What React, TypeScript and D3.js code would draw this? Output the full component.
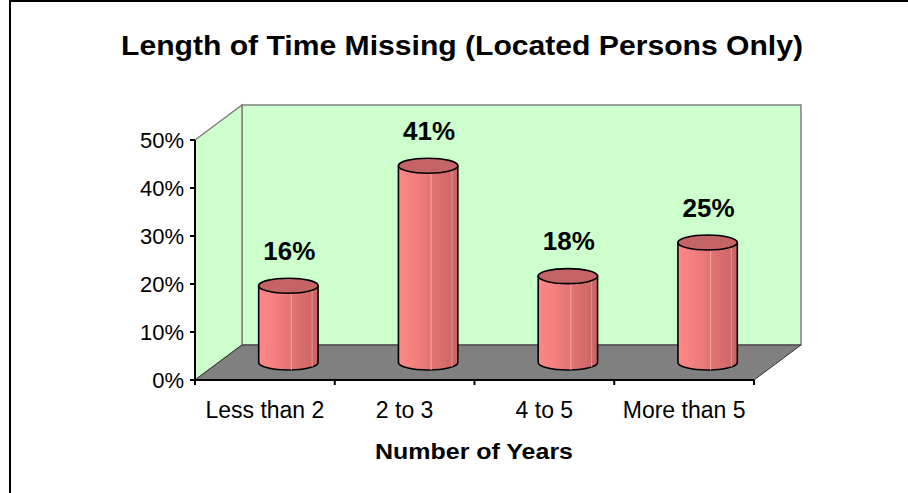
import React from "react";
import * as d3 from "d3";

const categories = ["Less than 2", "2 to 3", "4 to 5", "More than 5"];
const values = [0.16, 0.41, 0.18, 0.25];
const valueLabels = ["16%", "41%", "18%", "25%"];
const yTicks = [0, 0.1, 0.2, 0.3, 0.4, 0.5];
const title = "Length of Time Missing (Located Persons Only)";
const xTitle = "Number of Years";

const W = 908;
const H = 493;
const left = 195;
const right = 754;
const bottom = 380;
const top = 140;
const DX = 47;
const DY = -35;
const font = "Arial, 'Liberation Sans', Helvetica, sans-serif";

export default function App() {
  const x = d3.scaleBand<string>().domain(categories).range([left, right]);
  const y = d3.scaleLinear().domain([0, 0.5]).range([bottom, top]);
  const yFmt = d3.format(".0%");
  const bw = x.bandwidth() * 0.425;
  const rx = bw / 2;
  const ry = 7.5;
  const mx = DX / 2;
  const my = DY / 2;

  const back = [
    [left + DX, top + DY],
    [right + DX, top + DY],
    [right + DX, bottom + DY],
    [left + DX, bottom + DY],
  ];
  const side = [
    [left, top],
    [left + DX, top + DY],
    [left + DX, bottom + DY],
    [left, bottom],
  ];
  const floor = [
    [left, bottom],
    [left + DX, bottom + DY],
    [right + DX, bottom + DY],
    [right, bottom],
  ];
  const pts = (p: number[][]) => p.map((d) => d.join(",")).join(" ");

  const boundaries = [left, ...categories.map((c) => (x(c) as number) + x.bandwidth())];

  return (
    <svg
      width={W}
      height={H}
      style={{ position: "absolute", left: 0, top: 0, background: "#fff" }}
      xmlns="http://www.w3.org/2000/svg"
    >
      <defs>
        <linearGradient id="cyl" x1="0" x2="1" y1="0" y2="0">
          <stop offset="0" stopColor="#ff8686" />
          <stop offset="0.25" stopColor="#f58080" />
          <stop offset="0.5" stopColor="#e67676" />
          <stop offset="0.75" stopColor="#d86c6c" />
          <stop offset="1" stopColor="#c86464" />
        </linearGradient>
      </defs>
      <rect x={10} y={1} width={W + 20} height={H + 20} fill="#fff" stroke="#000" strokeWidth={2} />
      <text
        x={462}
        y={55}
        textAnchor="middle"
        fontFamily={font}
        fontWeight="bold"
        fontSize={27}
        textLength={682}
        lengthAdjust="spacingAndGlyphs"
      >
        {title}
      </text>

      <polygon points={pts(back)} fill="#ccffcc" stroke="#808080" strokeWidth={1.5} />
      <polygon points={pts(side)} fill="#ccffcc" stroke="#808080" strokeWidth={1.5} />
      <polygon points={pts(floor)} fill="#808080" stroke="#333" strokeWidth={1} />

      {categories.map((c, i) => {
        const cx = (x(c) as number) + x.bandwidth() / 2 + mx;
        const yb = y(0) + my;
        const yt = y(values[i]) + my;
        const x0 = cx - rx;
        const x1 = cx + rx;
        const body = `M${x0},${yt} L${x0},${yb} A${rx},${ry} 0 0 0 ${x1},${yb} L${x1},${yt} Z`;
        return (
          <g key={c}>
            <path d={body} fill="url(#cyl)" stroke="#000" strokeWidth={1.6} />
            <line x1={x0 + bw * 0.55} x2={x0 + bw * 0.55} y1={yt} y2={yb + ry} stroke="#f4a8a8" strokeWidth={1} />
            <line x1={x0 + bw * 0.9} x2={x0 + bw * 0.9} y1={yt} y2={yb + ry * 0.6} stroke="#e49090" strokeWidth={1} />
            <ellipse cx={cx} cy={yt} rx={rx} ry={ry} fill="#c46464" stroke="#000" strokeWidth={1.6} />
            <text
              x={cx + 1}
              y={yt - 26}
              textAnchor="middle"
              fontFamily={font}
              fontWeight="bold"
              fontSize={26}
            >
              {valueLabels[i]}
            </text>
          </g>
        );
      })}

      <line x1={left} x2={left} y1={top} y2={bottom} stroke="#000" strokeWidth={2} />
      <line x1={left} x2={right} y1={bottom} y2={bottom} stroke="#000" strokeWidth={2} />
      {yTicks.map((t) => (
        <g key={t}>
          <line x1={left - 5} x2={left} y1={y(t)} y2={y(t)} stroke="#000" strokeWidth={2} />
          <text
            x={184}
            y={y(t)}
            dy="0.36em"
            textAnchor="end"
            fontFamily={font}
            fontSize={22}
          >
            {yFmt(t)}
          </text>
        </g>
      ))}
      {boundaries.map((b, i) => (
        <line key={i} x1={b} x2={b} y1={bottom} y2={bottom + 5} stroke="#000" strokeWidth={2} />
      ))}
      {categories.map((c) => (
        <text
          key={c}
          x={(x(c) as number) + x.bandwidth() / 2}
          y={418}
          textAnchor="middle"
          fontFamily={font}
          fontSize={23}
        >
          {c}
        </text>
      ))}
      <text
        x={474}
        y={459}
        textAnchor="middle"
        fontFamily={font}
        fontWeight="bold"
        fontSize={22}
        textLength={198}
        lengthAdjust="spacingAndGlyphs"
      >
        {xTitle}
      </text>
    </svg>
  );
}
